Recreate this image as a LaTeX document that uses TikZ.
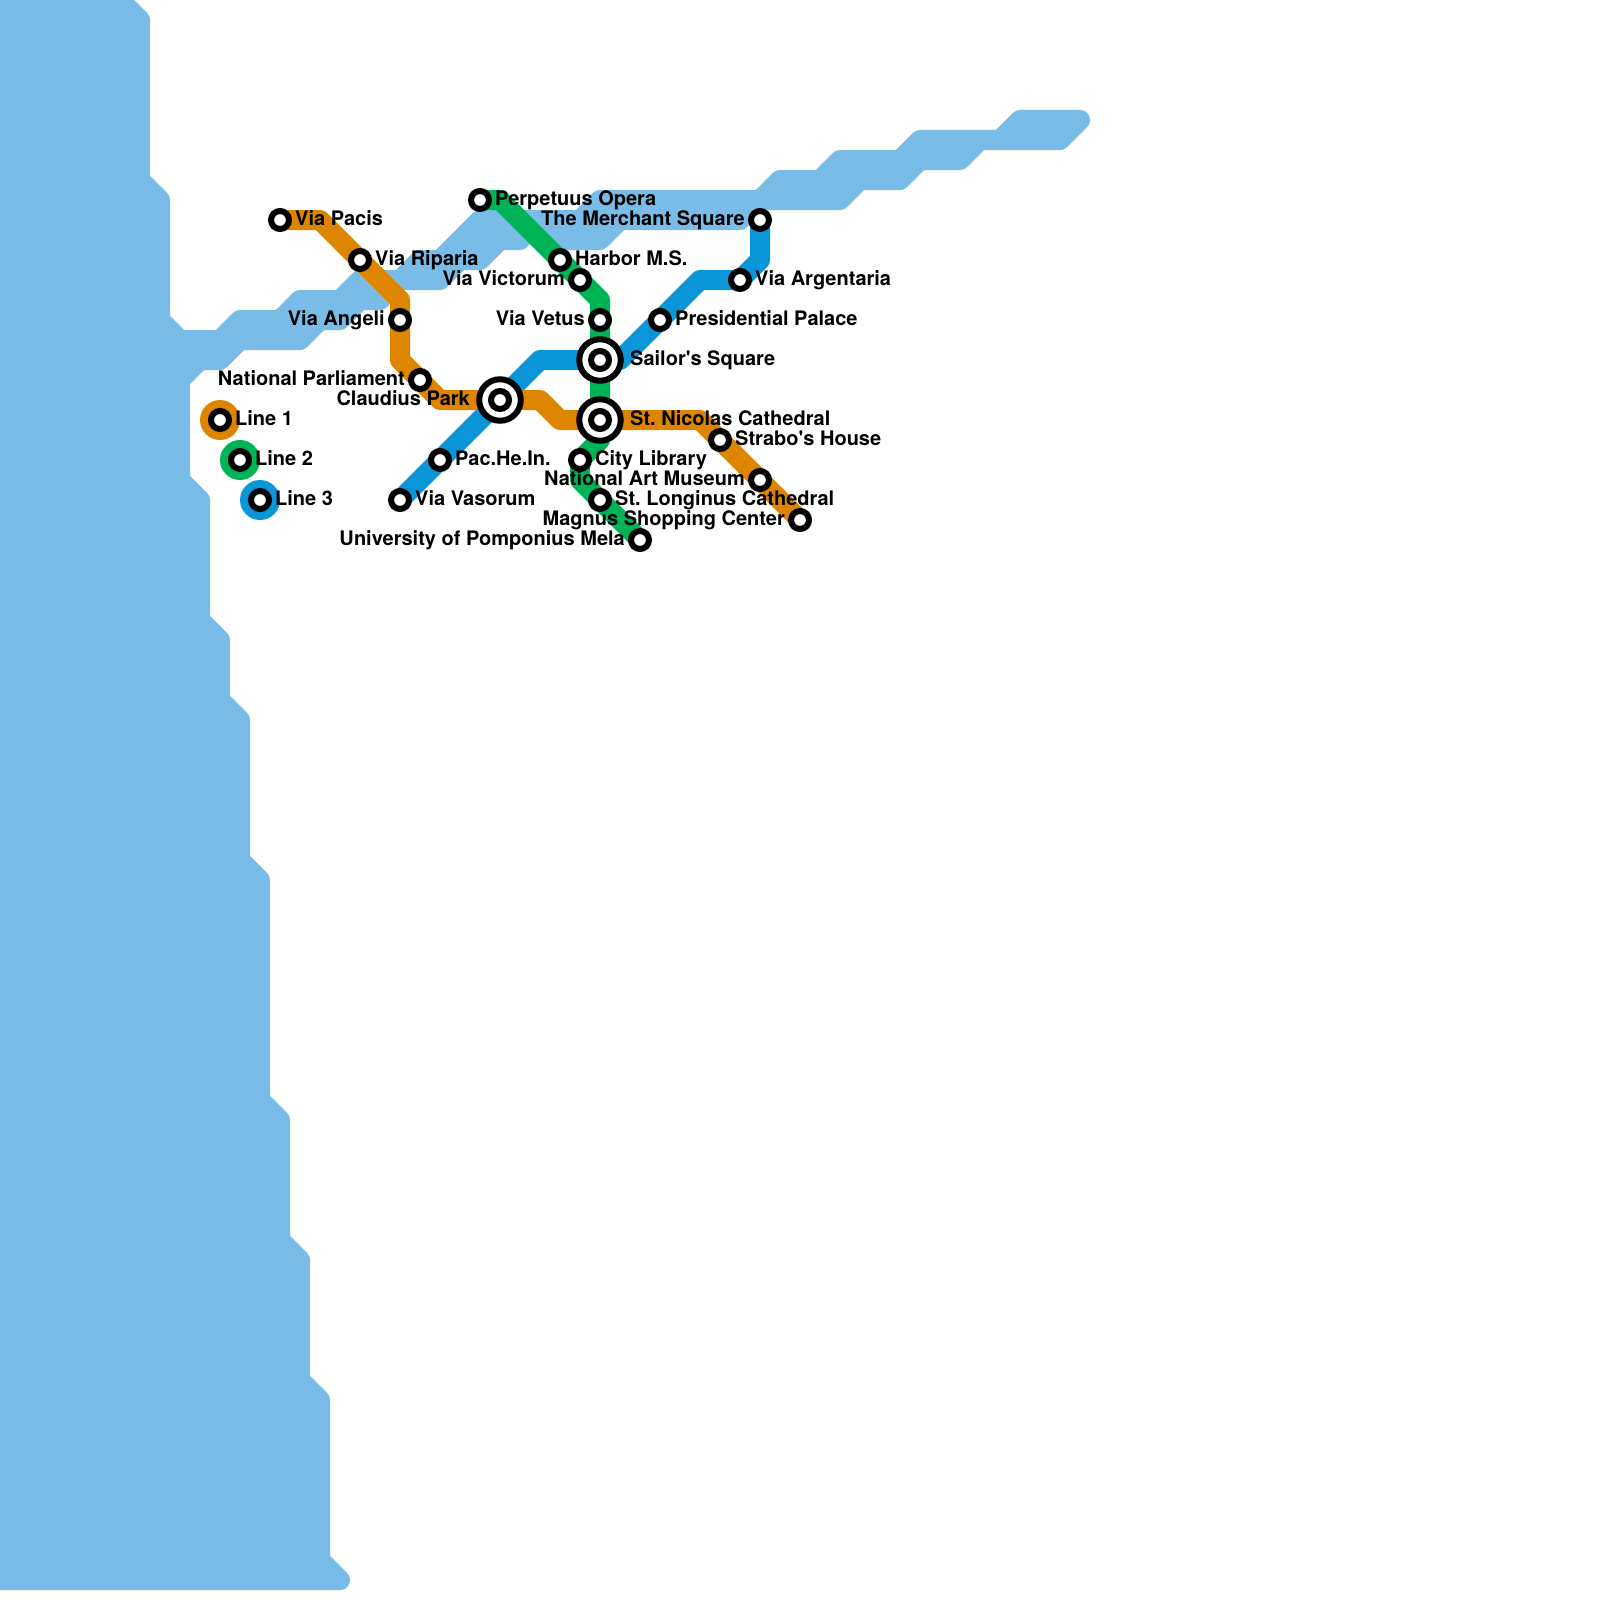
\documentclass[tikz,border=0pt]{standalone}
\usepackage{fontspec}
\setmainfont{TeX Gyre Heros}[Ligatures=TeXOff]
\definecolor{water}{HTML}{7ABCE8}
\definecolor{lineone}{HTML}{DE8500}
\definecolor{linetwo}{HTML}{00B356}
\definecolor{linethree}{HTML}{0A96D8}
\pgfdeclarelayer{bg}
\pgfsetlayers{bg,main}
\tikzset{
  stn/.style={circle,draw=black,fill=white,line width=6pt,minimum size=18pt,inner sep=0pt,outer sep=0pt},
  ring/.style={circle,draw=black,fill=white,line width=6pt,minimum size=41.5pt,inner sep=0pt,outer sep=0pt},
  legenddisc/.style={circle,minimum size=40pt,inner sep=0pt,outer sep=0pt},
  metro/.style={line width=20pt,line join=round},
  sea/.style={fill=water,draw=water,line width=20pt,line join=round},
  lbr/.style={anchor=base west,inner sep=0pt,font=\fontsize{20pt}{24pt}\selectfont\bfseries\frenchspacing},
  lbl/.style={anchor=base east,inner sep=0pt,font=\fontsize{20pt}{24pt}\selectfont\bfseries\frenchspacing},
}
\begin{document}
\begin{tikzpicture}[x=1pt,y=-1pt]
\useasboundingbox (0,0) rectangle (1600,1600);
\clip (0,0) rectangle (1600,1600);
\begin{pgfonlayer}{bg}
\fill[white] (0,0) rectangle (1600,1600);
\draw[sea] (-20,-20) -- (100,-20) -- (120,0) -- (140,20) -- (140,180) -- (160,200) -- (160,320) -- (180,340) -- (220,340) -- (240,320) -- (280,320) -- (300,300) -- (340,300) -- (360,280) -- (400,280) -- (420,260) -- (440,260) -- (480,220) -- (540,220) -- (580,220) -- (600,200) -- (760,200) -- (780,180) -- (820,180) -- (840,160) -- (900,160) -- (920,140) -- (1000,140) -- (1020,120) -- (1080,120) -- (1060,140) -- (980,140) -- (960,160) -- (920,160) -- (900,180) -- (860,180) -- (840,200) -- (760,200) -- (740,220) -- (620,220) -- (600,240) -- (560,240) -- (540,220) -- (520,240) -- (500,240) -- (480,260) -- (460,260) -- (440,280) -- (400,280) -- (380,300) -- (360,300) -- (340,320) -- (320,320) -- (300,340) -- (240,340) -- (220,360) -- (200,360) -- (180,380) -- (180,480) -- (200,500) -- (200,620) -- (220,640) -- (220,700) -- (240,720) -- (240,860) -- (260,880) -- (260,1100) -- (280,1120) -- (280,1240) -- (300,1260) -- (300,1380) -- (320,1400) -- (320,1560) -- (340,1580) -- (-20,1580) -- cycle;
\end{pgfonlayer}
% bend points
\coordinate (o1) at (320,220);
\coordinate (o2) at (400,300);
\coordinate (o3) at (400,360);
\coordinate (o4) at (440,400);
\coordinate (o5) at (540,400);
\coordinate (o6) at (560,420);
\coordinate (o7) at (700,420);
\coordinate (g1) at (500,200);
\coordinate (g2) at (600,300);
\coordinate (g4) at (600,440);
\coordinate (g3) at (580,480);
\coordinate (b1) at (540,360);
\coordinate (b2) at (620,360);
\coordinate (b3) at (700,280);
\coordinate (b4) at (760,260);
% legend
\node[legenddisc,fill=lineone] (legA) at (220,420) {};
\node[legenddisc,fill=linetwo] (legB) at (240,460) {};
\node[legenddisc,fill=linethree] (legC) at (260,500) {};
\node[stn] (l1) at (220,420) {};
\node[stn] (l2) at (240,460) {};
\node[stn] (l3) at (260,500) {};
% interchange rings
\node[ring] (claudiusring) at (500,400) {};
\node[ring] (sailorring) at (600,360) {};
\node[ring] (nicolasring) at (600,420) {};
% stations
\node[stn] (pacis) at (280,220) {};
\node[stn] (riparia) at (360,260) {};
\node[stn] (angeli) at (400,320) {};
\node[stn] (parliament) at (420,380) {};
\node[stn] (claudius) at (500,400) {};
\node[stn] (nicolas) at (600,420) {};
\node[stn] (strabo) at (720,440) {};
\node[stn] (artmuseum) at (760,480) {};
\node[stn] (magnus) at (800,520) {};
\node[stn] (perpetuus) at (480,200) {};
\node[stn] (harbor) at (560,260) {};
\node[stn] (victorum) at (580,280) {};
\node[stn] (vetus) at (600,320) {};
\node[stn] (sailor) at (600,360) {};
\node[stn] (citylib) at (580,460) {};
\node[stn] (longinus) at (600,500) {};
\node[stn] (pomponius) at (640,540) {};
\node[stn] (vasorum) at (400,500) {};
\node[stn] (pache) at (440,460) {};
\node[stn] (presidential) at (660,320) {};
\node[stn] (argentaria) at (740,280) {};
\node[stn] (merchant) at (760,220) {};
% lines
\begin{pgfonlayer}{bg}
\draw[metro,linethree] (vasorum.center) -- (pache.center) -- (claudius.center) -- (b1) -- (sailor.center) -- (b2) -- (presidential.center) -- (b3) -- (argentaria.center) -- (b4) -- (merchant.center);
\draw[metro,linetwo] (perpetuus.center) -- (g1) -- (harbor.center) -- (victorum.center) -- (g2) -- (vetus.center) -- (sailor.center) -- (nicolas.center) -- (g4) -- (citylib.center) -- (g3) -- (longinus.center) -- (pomponius.center);
\draw[metro,lineone] (pacis.center) -- (o1) -- (riparia.center) -- (o2) -- (angeli.center) -- (o3) -- (parliament.center) -- (o4) -- (claudius.center) -- (o5) -- (o6) -- (nicolas.center) -- (o7) -- (strabo.center) -- (artmuseum.center) -- (magnus.center);
\end{pgfonlayer}
% labels
\node[lbr] (tl1) at (235,425) {Line 1};
\node[lbr] (tl2) at (255,465) {Line 2};
\node[lbr] (tl3) at (275,505) {Line 3};
\node[lbr] (tpacis) at (295,225) {Via Pacis};
\node[lbr] (triparia) at (375,265) {Via Riparia};
\node[lbl] (tangeli) at (385,325) {Via Angeli};
\node[lbl] (tparliament) at (405,385) {National Parliament};
\node[lbl] (tclaudius) at (470,405) {Claudius Park};
\node[lbr] (tnicolas) at (630,425) {St. Nicolas Cathedral};
\node[lbr] (tstrabo) at (735,445) {Strabo's House};
\node[lbl] (tart) at (745,485) {National Art Museum};
\node[lbl] (tmagnus) at (785,525) {Magnus Shopping Center};
\node[lbr] (tperp) at (495,205) {Perpetuus Opera};
\node[lbr] (tharbor) at (575,265) {Harbor M.S.};
\node[lbl] (tvict) at (565,285) {Via Victorum};
\node[lbl] (tvetus) at (585,325) {Via Vetus};
\node[lbr] (tsailor) at (630,365) {Sailor's Square};
\node[lbr] (tcity) at (595,465) {City Library};
\node[lbr] (tlong) at (615,505) {St. Longinus Cathedral};
\node[lbl] (tpomp) at (625,545) {University of Pomponius Mela};
\node[lbr] (tvas) at (415,505) {Via Vasorum};
\node[lbr] (tpac) at (455,465) {Pac.He.In.};
\node[lbr] (tpres) at (675,325) {Presidential Palace};
\node[lbr] (targ) at (755,285) {Via Argentaria};
\node[lbl] (tmerch) at (745,225) {The Merchant Square};
\end{tikzpicture}
\end{document}
